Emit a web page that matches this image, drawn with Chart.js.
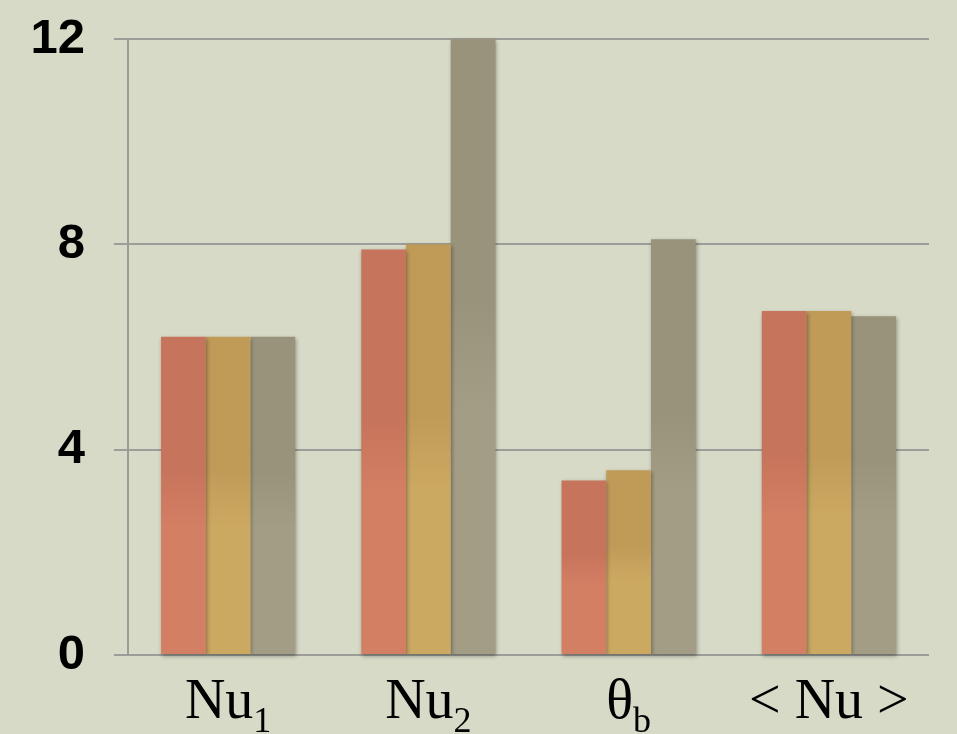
<!DOCTYPE html>
<html>
<head>
<meta charset="utf-8">
<script src="https://cdn.jsdelivr.net/npm/chart.js@4.4.0/dist/chart.umd.min.js"></script>
<style>
  html, body { margin: 0; padding: 0; background: #d7dac7; }
  #cadre { width: 957px; height: 734px; }
</style>
</head>
<body>
<div id="cadre"><canvas id="graphe"></canvas></div>
<script>
// Données
var categories = ['Nu1', 'Nu2', 'θb', '<Nu>'];
var labelMain = ['Nu', 'Nu', 'θ', '< Nu >'];
var labelSub = ['1', '2', 'b', ''];
var serie1 = [6.2, 7.9, 3.4, 6.7];
var serie2 = [6.2, 8.0, 3.6, 6.7];
var serie3 = [6.2, 12, 8.1, 6.6];
var yTicks = [0, 4, 8, 12];

// Dégradé vertical par barre : foncé en haut, clair en bas
function degrade(haut, bas) {
  return function(context) {
    var chart = context.chart;
    if (!chart.chartArea || context.type !== 'data') {
      return haut;
    }
    var y = chart.scales.y;
    var top = Math.max(y.getPixelForValue(context.raw), chart.chartArea.top);
    var base = y.getPixelForValue(0);
    var g = chart.ctx.createLinearGradient(0, top, 0, base);
    g.addColorStop(0, haut);
    g.addColorStop(0.42, haut);
    g.addColorStop(0.6, bas);
    g.addColorStop(1, bas);
    return g;
  };
}

// Ombre portée des barres
var ombre = {
  id: 'ombre',
  beforeDatasetDraw: function(chart) {
    var c = chart.ctx;
    c.save();
    c.shadowColor = 'rgba(0,0,0,0.35)';
    c.shadowBlur = 4;
    c.shadowOffsetX = 1;
    c.shadowOffsetY = 2;
  },
  afterDatasetDraw: function(chart) {
    chart.ctx.restore();
  }
};

// Étiquettes de l'axe x avec indices
var etiquettes = {
  id: 'etiquettes',
  afterDraw: function(chart) {
    var c = chart.ctx;
    var x = chart.scales.x;
    var baseline = chart.chartArea.bottom + 63;
    var fontMain = '56px "Liberation Serif", "Times New Roman", serif';
    var fontSub = '36px "Liberation Serif", "Times New Roman", serif';
    c.save();
    c.fillStyle = '#000';
    c.textAlign = 'left';
    c.textBaseline = 'alphabetic';
    for (var i = 0; i < categories.length; i++) {
      c.font = fontMain;
      var w1 = c.measureText(labelMain[i]).width;
      c.font = fontSub;
      var w2 = labelSub[i] ? c.measureText(labelSub[i]).width : 0;
      var x0 = x.getPixelForValue(i) - (w1 + w2) / 2;
      c.font = fontMain;
      c.fillText(labelMain[i], x0, baseline);
      if (labelSub[i]) {
        c.font = fontSub;
        c.fillText(labelSub[i], x0 + w1, baseline + 14);
      }
    }
    c.restore();
  }
};

new Chart(document.getElementById('graphe'), {
  type: 'bar',
  data: {
    labels: categories,
    datasets: [
      { label: 'a', data: serie1, backgroundColor: degrade('#c7745c', '#d37f64') },
      { label: 'b', data: serie2, backgroundColor: degrade('#c09b58', '#cca961') },
      { label: 'c', data: serie3, backgroundColor: degrade('#98937a', '#a39d85') }
    ]
  },
  options: {
    responsive: true,
    maintainAspectRatio: false,
    animation: false,
    layout: { padding: { top: 39, right: 28, left: 0, bottom: 0 } },
    plugins: {
      legend: { display: false },
      tooltip: { enabled: false }
    },
    datasets: {
      bar: { categoryPercentage: 0.67, barPercentage: 1, borderWidth: 0, clip: false }
    },
    scales: {
      x: {
        grid: { display: false },
        border: { display: false },
        ticks: { display: false },
        afterFit: function(s) { s.height = 79; }
      },
      y: {
        min: 0,
        max: 12,
        afterBuildTicks: function(s) {
          s.ticks = yTicks.map(function(v) { return { value: v }; });
        },
        grid: { color: '#9c9d98', lineWidth: 2, tickLength: 14 },
        border: { color: '#9c9d98', width: 2 },
        ticks: {
          padding: 29,
          color: '#000',
          font: { family: '"Liberation Sans", Arial, sans-serif', size: 49, weight: 'bold' }
        },
        afterFit: function(s) {
          s.width = 128;
          s.paddingTop = 0;
          s.paddingBottom = 0;
        }
      }
    }
  },
  plugins: [ombre, etiquettes]
});
</script>
</body>
</html>
